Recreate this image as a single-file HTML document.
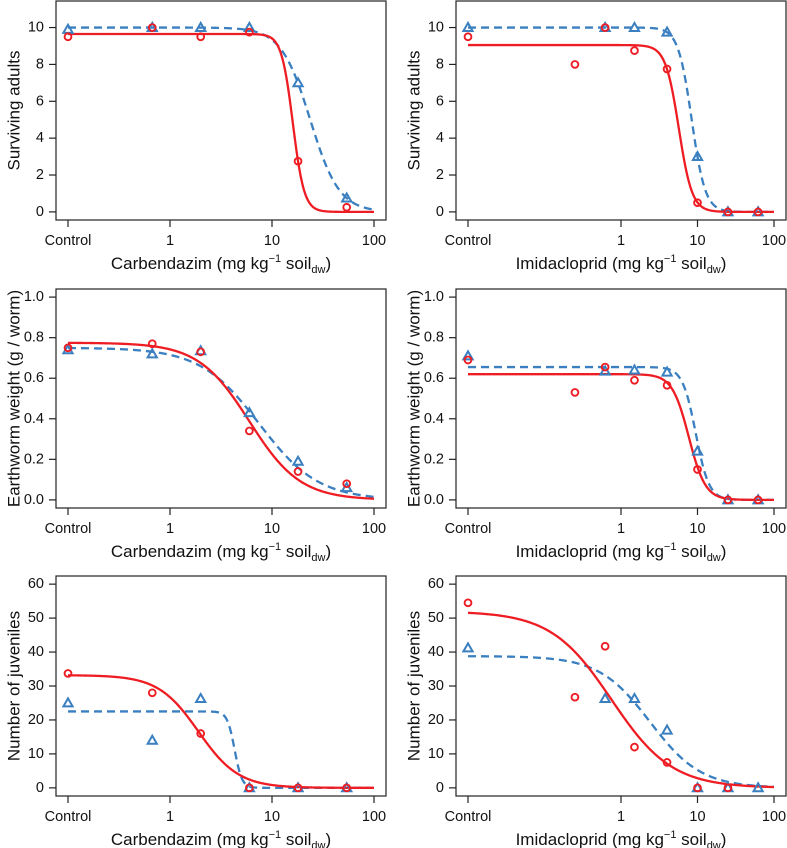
<!DOCTYPE html>
<html><head><meta charset="utf-8"><style>
html,body{margin:0;padding:0;background:#fff;}
svg{display:block;font-family:"Liberation Sans",Arial,sans-serif;}
</style></head><body>
<svg id="fig" width="787" height="848" viewBox="0 0 787 848" xmlns="http://www.w3.org/2000/svg"></svg>
<script>
// ---- data ----
const carbDoses = [0, 0.67, 2, 6, 18, 54];
const imidDoses = [0, 0.25, 0.62, 1.5, 4, 10, 25, 62];

const survCarbRed  = [9.5, 10, 9.5, 9.75, 2.75, 0.25];
const survCarbBlue = [9.9, 10, 10, 10, 7, 0.75];
const survImidRed  = [9.5, 8, 10, 8.75, 7.75, 0.5, 0, 0];
const survImidBlue = [10, null, 10, 10, 9.75, 3, 0, 0];

const wtCarbRed  = [0.75, 0.77, 0.73, 0.34, 0.14, 0.08];
const wtCarbBlue = [0.74, 0.72, 0.735, 0.43, 0.19, 0.06];
const wtImidRed  = [0.69, 0.53, 0.655, 0.59, 0.565, 0.15, 0, 0];
const wtImidBlue = [0.71, null, 0.635, 0.64, 0.63, 0.24, 0, 0];

const juvCarbRed  = [33.7, 28, 16, 0, 0, 0];
const juvCarbBlue = [25, 14, 26.3, 0, 0, 0];
const juvImidRed  = [54.5, 26.7, 41.7, 12, 7.5, 0, 0, null];
const juvImidBlue = [41.2, null, 26.3, 26.3, 17, 0, 0, 0];

// fitted log-logistic params [d (upper), e (ED50), b (slope)]
const fitSurvCarbRed = [9.65, 16, 7.8];
const fitSurvCarbBlue = [10, 23.7, 3.05];
const fitSurvImidRed = [9.05, 5.7, 5.0];
const fitSurvImidBlue = [10, 8.4, 4.9];
const fitWtCarbRed = [0.775, 6, 1.74];
const fitWtCarbBlue = [0.75, 7.5, 1.5];
const fitWtImidRed = [0.62, 7.7, 4];
const fitWtImidBlue = [0.655, 9.5, 5];
const fitJuvCarbRed = [33.2, 1.9, 2.2];
const fitJuvCarbBlue = [22.5, 4.3, 12];
const fitJuvImidRed = [52, 0.75, 1.1];
const fitJuvImidBlue = [38.8, 2.4, 1.3];

const yTicksSurv = [0, 2, 4, 6, 8, 10];
const yTicksWt = [0, 0.2, 0.4, 0.6, 0.8, 1.0];
const yTicksJuv = [0, 10, 20, 30, 40, 50, 60];
const xTickVals = [1, 10, 100];
const xTickLabels = ["1", "10", "100"];

// ---- drawing ----
const NS = "http://www.w3.org/2000/svg";
const svg = document.getElementById("fig");
const RED = "#ee1d23", BLUE = "#3a7fc0";
function mk(tag, attrs, parent) {
  const e = document.createElementNS(NS, tag);
  for (const k in attrs) e.setAttribute(k, attrs[k]);
  (parent || svg).appendChild(e);
  return e;
}
function panel(cfg) {
  const g = mk("g", {});
  
  
  const L = cfg.L, T = cfg.T, B = cfg.B;
  const ctrlLog = cfg.ctrlLog;
  const xs = v => { const lv = v <= 0 ? ctrlLog : Math.log10(v); return L + 12 + (lv - ctrlLog) / (2 - ctrlLog) * 306; };
  const span = cfg.ymax * 1.08;
  const ys = v => B - (v + cfg.ymax * 0.04) / span * (B - T);
  const box = mk("rect", {x: L, y: T, width: 330, height: B - T, fill: "none", stroke: "#222", "stroke-width": 1.2}, g);
  
  
  cfg.yTicks.forEach(t => {
    const y = ys(t);
    mk("line", {x1: L - 7, x2: L, y1: y, y2: y, stroke: "#222", "stroke-width": 1.2}, g);
    const tx = mk("text", {x: L - 12, y: y, "font-size": 14.5, "text-anchor": "end", "dominant-baseline": "central", fill: "#111"}, g);
    tx.textContent = cfg.yDec ? t.toFixed(1) : String(t);
    
    
  });
  const xt = [{v: 0, l: "Control"}].concat(xTickVals.map((v, i) => ({v: v, l: xTickLabels[i]})));
  xt.forEach(t => {
    const x = xs(t.v);
    mk("line", {x1: x, x2: x, y1: B, y2: B + 7, stroke: "#222", "stroke-width": 1.2}, g);
    const tx = mk("text", {x: x, y: B + 21, "font-size": 14.5, "text-anchor": "middle", "dominant-baseline": "central", fill: "#111"}, g);
    tx.textContent = t.l;
    
    
  });
  const xtl = mk("text", {x: L + 165, y: B + 49, "font-size": 17, "text-anchor": "middle", fill: "#111"}, g);
  
  
  xtl.appendChild(document.createTextNode(cfg.chem + " (mg kg"));
  const sup = mk("tspan", {"font-size": 11, dy: -7}, xtl); sup.textContent = "\u22121";
  const s2 = mk("tspan", {dy: 7}, xtl); s2.textContent = " soil";
  const sub = mk("tspan", {"font-size": 11, dy: 4}, xtl); sub.textContent = "dw";
  const s3 = mk("tspan", {dy: -4}, xtl); s3.textContent = ")";
  const cy = (T + B) / 2, cx = L - 42;
  const ytl = mk("text", {x: cx, y: cy, "font-size": 17, "text-anchor": "middle", "dominant-baseline": "central", transform: `rotate(-90 ${cx} ${cy})`, fill: "#111"}, g);
  ytl.textContent = cfg.ytitle;
  
  
  function curve(p, color, dash, nm) {
    const [d, e, b] = p;
    let pts = [];
    for (let i = 0; i <= 300; i++) {
      const lx = ctrlLog + (2 - ctrlLog) * i / 300;
      const x = Math.pow(10, lx);
      const y = d / (1 + Math.pow(x / e, b));
      pts.push(xs(x).toFixed(2) + "," + ys(y).toFixed(2));
    }
    const pl = mk("polyline", {points: pts.join(" "), fill: "none", stroke: color, "stroke-width": 2.3}, g);
    if (dash) pl.setAttribute("stroke-dasharray", "8,5");
    
    
  }
  curve(cfg.fitBlue, BLUE, true, 'fit-curve-blue');
  curve(cfg.fitRed, RED, false, 'fit-curve-red');
  cfg.doses.forEach((dv, i) => {
    const v = cfg.blue[i];
    if (v === null || v === undefined) return;
    const x = xs(dv), y = ys(v), s = 4.6;
    const tri = mk("polygon", {points: `${x},${y - s} ${x - s},${y + s * 0.75} ${x + s},${y + s * 0.75}`, fill: "none", stroke: BLUE, "stroke-width": 2}, g);
    
    
  });
  cfg.doses.forEach((dv, i) => {
    const v = cfg.red[i];
    if (v === null || v === undefined) return;
    const c = mk("circle", {cx: xs(dv), cy: ys(v), r: 3.4, fill: "none", stroke: RED, "stroke-width": 1.9}, g);
    
    
  });
}
const LX = 56, RX = 456;
panel({name: "panel-survival-carbendazim", L: LX, T: 1, B: 220, ymax: 11, yTicks: yTicksSurv, ctrlLog: -1, chem: "Carbendazim", ytitle: "Surviving adults", doses: carbDoses, red: survCarbRed, blue: survCarbBlue, fitRed: fitSurvCarbRed, fitBlue: fitSurvCarbBlue});
panel({name: "panel-survival-imidacloprid", L: RX, T: 1, B: 220, ymax: 11, yTicks: yTicksSurv, ctrlLog: -2, chem: "Imidacloprid", ytitle: "Surviving adults", doses: imidDoses, red: survImidRed, blue: survImidBlue, fitRed: fitSurvImidRed, fitBlue: fitSurvImidBlue});
panel({name: "panel-weight-carbendazim", L: LX, T: 289, B: 508, ymax: 1, yDec: true, yTicks: yTicksWt, ctrlLog: -1, chem: "Carbendazim", ytitle: "Earthworm weight (g / worm)", doses: carbDoses, red: wtCarbRed, blue: wtCarbBlue, fitRed: fitWtCarbRed, fitBlue: fitWtCarbBlue});
panel({name: "panel-weight-imidacloprid", L: RX, T: 289, B: 508, ymax: 1, yDec: true, yTicks: yTicksWt, ctrlLog: -2, chem: "Imidacloprid", ytitle: "Earthworm weight (g / worm)", doses: imidDoses, red: wtImidRed, blue: wtImidBlue, fitRed: fitWtImidRed, fitBlue: fitWtImidBlue});
panel({name: "panel-juveniles-carbendazim", L: LX, T: 576, B: 796, ymax: 60, yTicks: yTicksJuv, ctrlLog: -1, chem: "Carbendazim", ytitle: "Number of juveniles", doses: carbDoses, red: juvCarbRed, blue: juvCarbBlue, fitRed: fitJuvCarbRed, fitBlue: fitJuvCarbBlue});
panel({name: "panel-juveniles-imidacloprid", L: RX, T: 576, B: 796, ymax: 60, yTicks: yTicksJuv, ctrlLog: -2, chem: "Imidacloprid", ytitle: "Number of juveniles", doses: imidDoses, red: juvImidRed, blue: juvImidBlue, fitRed: fitJuvImidRed, fitBlue: fitJuvImidBlue});
</script>
</body></html>
